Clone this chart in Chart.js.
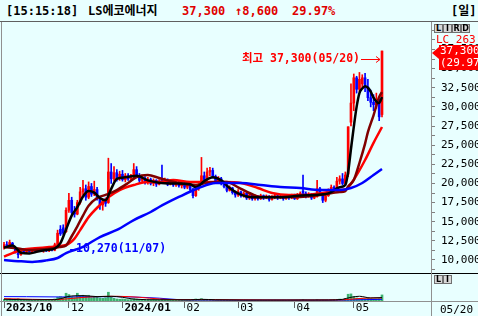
<!DOCTYPE html>
<html>
<head>
<meta charset="utf-8">
<title>LS에코에너지</title>
<script src="https://cdn.jsdelivr.net/npm/chart.js@4.4.1/dist/chart.umd.min.js"></script>
<style>
  html, body { margin: 0; padding: 0; }
  body {
    width: 478px; height: 316px; position: relative; overflow: hidden;
    background: #E8FFFF;
    font-family: "DejaVu Sans Mono", "Noto Sans CJK KR", monospace;
  }
  .abs { position: absolute; white-space: nowrap; }
  #title span { position: absolute; top: 3px; font-size: 12px; font-weight: bold; line-height: 16px; white-space: nowrap; }
  .up { color: #E00000; }
  canvas { position: absolute; left: 0; }
  .btn {
    position: absolute; width: 7px; height: 7px; border: 1px solid #707070; background: #D8D8D8;
    font: bold 8px "DejaVu Sans", sans-serif; line-height: 7px; text-align: center; color: #000;
  }
</style>
</head>
<body>
<div id="title">
  <span style="left:6px">[15:15:18]</span>
  <span style="left:88px">LS에코에너지</span>
  <span class="up" style="left:182px">37,300</span>
  <span class="up" style="left:235px">↑8,600</span>
  <span class="up" style="left:292px">29.97%</span>
  <span style="left:451px">[일]</span>
</div>

<canvas id="priceChart" width="478" height="251" style="top:22px"></canvas>
<canvas id="volChart" width="478" height="42" style="top:274px"></canvas>

<div class="abs" style="left:0;top:21px;width:478px;height:1px;background:#606060"></div>
<div class="abs" style="left:0;top:273px;width:478px;height:1px;background:#000"></div>
<div class="abs" style="left:0;top:301px;width:478px;height:1px;background:#909090"></div>
<div class="abs" style="left:431px;top:22px;width:1px;height:294px;background:#909090"></div>
<div class="abs" style="left:1px;top:22px;width:1px;height:294px;background:#909090"></div>

<div class="btn" style="left:434px;top:24px">L</div>
<div class="btn" style="left:443px;top:24px">I</div>
<div class="btn" style="left:452px;top:24px">R</div>
<div class="btn" style="left:461px;top:24px">D</div>
<div class="btn" style="left:434px;top:275px">L</div>
<div class="btn" style="left:443px;top:275px">I</div>

<div class="abs" style="left:436px;top:34px;color:#f00;font-size:11px;line-height:12px">LC 263</div>
<div class="abs" style="left:432px;top:47px;width:0;height:0;border-top:6px solid transparent;border-bottom:6px solid transparent;border-right:7px solid #f00"></div>
<div class="abs" style="left:439px;top:45px;width:39px;height:25px;background:#f00;color:#fff;font-size:11px;line-height:12px;overflow:hidden;padding-left:1px">37,300<br>(29.97%)</div>
<div class="abs" style="left:440px;top:303px;font-size:11px;line-height:13px;color:#000">05/20</div>

<script>
  // daily candles, 2023-10-31 .. 2024-05-20 (index 0..134)
  var openP = [
    11600, 12000, 11800, 12200, 11500, 11000, 10700, 11200, 11100, 11300,
    11100, 11400, 11200, 11400, 11200, 11300, 11200, 11600, 11300, 11900,
    14000, 14200, 13700, 16500, 17800, 16200, 16000, 17500, 18900, 19300,
    18200, 19600, 18600, 19200, 18000, 17200, 17700, 17500, 21500, 20600,
    21400, 20700, 21200, 20500, 21000, 20600, 20900, 21800, 21000, 20400,
    20700, 20100, 20500, 20000, 20400, 19900, 20600, 20200, 20500, 19900,
    20300, 19800, 20100, 19700, 19900, 19500, 19800, 19200, 18400, 19300,
    19900, 21000, 20500, 21500, 21700, 20900, 20300, 20600, 20000, 19600,
    19100, 19400, 18800, 18500, 18900, 18400, 18700, 18100, 18500, 18000,
    18300, 18000, 18400, 18100, 18300, 17900, 18200, 18400, 18100, 18300,
    18000, 18300, 18100, 18400, 18000, 18500, 19000, 18700, 18300, 18600,
    18100, 18300, 19300, 18600, 17800, 18400, 19100, 19500, 19200, 20300,
    20600, 20000, 21200, 28000, 30500, 33800, 32300, 33000, 33800, 32600,
    31200, 30600, 30300, 30500, 29000
  ];
  var highP = [
    12300, 12400, 12600, 12300, 11700, 11200, 11400, 11500, 11400, 11400,
    11500, 11600, 11500, 11500, 11400, 11500, 11800, 11700, 12200, 13900,
    14500, 14600, 16800, 18700, 18200, 17000, 17800, 19500, 20400, 19800,
    20200, 20000, 20300, 19500, 18300, 18000, 18100, 23300, 22600, 22200,
    21800, 21600, 21700, 21300, 21300, 21200, 22600, 22200, 21300, 20900,
    20900, 20800, 20700, 20600, 20500, 20500, 22400, 20700, 20600, 20500,
    20500, 20400, 20300, 20200, 20100, 20000, 19900, 19400, 19500, 20000,
    23400, 21500, 22000, 22100, 22000, 21100, 20900, 20800, 20200, 19900,
    19700, 19500, 19000, 19200, 19000, 18900, 18800, 18700, 18600, 18500,
    18400, 18600, 18500, 18500, 18400, 18400, 18600, 18500, 18500, 18400,
    18500, 18400, 18600, 18600, 18700, 18900, 21100, 18900, 18800, 18700,
    18600, 20400, 19500, 18800, 18600, 19300, 19800, 19700, 20800, 21000,
    21300, 21500, 27400, 33000, 34300, 34000, 34500, 34200, 34400, 33600,
    32200, 31600, 31800, 31000, 37300
  ];
  var lowP = [
    11400, 11700, 11700, 11500, 10900, 10270, 10600, 11000, 10900, 11000,
    11000, 11100, 11100, 11100, 11000, 11100, 11100, 11200, 11200, 11800,
    13200, 13300, 13600, 16200, 15800, 15600, 15900, 17300, 18500, 17800,
    18000, 18300, 18400, 17800, 16600, 16500, 17000, 17400, 20000, 20300,
    20300, 20400, 20300, 20200, 20400, 20300, 20700, 20800, 20200, 20100,
    19900, 19900, 19800, 19700, 19600, 19800, 20000, 20000, 19700, 19800,
    19600, 19600, 19500, 19400, 19300, 19300, 19000, 18100, 18300, 19100,
    19800, 20200, 20400, 21000, 20700, 20000, 20100, 19800, 19400, 18900,
    19000, 18600, 18200, 18300, 18200, 18200, 17900, 17900, 17800, 17800,
    17800, 17900, 17900, 18000, 17700, 17800, 18000, 17900, 18000, 17800,
    17900, 17900, 18000, 17900, 17900, 18300, 18500, 18100, 18200, 17900,
    18000, 18200, 18400, 17500, 17600, 18300, 18900, 18900, 19100, 19900,
    19800, 19800, 20900, 27500, 29500, 31800, 32000, 32500, 32000, 30800,
    30000, 29500, 29800, 28200, 28700
  ];
  var closeP = [
    12000, 11800, 12300, 11600, 11000, 10700, 11200, 11100, 11300, 11100,
    11400, 11200, 11400, 11200, 11300, 11200, 11600, 11300, 12000, 13500,
    13400, 13500, 16500, 17800, 16200, 16000, 17500, 18900, 19300, 18200,
    19600, 18600, 19200, 18000, 17200, 17700, 17400, 21500, 20600, 21400,
    20700, 21200, 20500, 21000, 20600, 20900, 21800, 21000, 20400, 20700,
    20100, 20500, 20000, 20400, 19900, 20300, 20200, 20500, 19900, 20300,
    19800, 20100, 19700, 19900, 19500, 19800, 19200, 18400, 19300, 19800,
    21000, 20500, 21500, 21700, 20900, 20300, 20600, 20000, 19600, 19100,
    19400, 18800, 18500, 18900, 18400, 18700, 18100, 18500, 18000, 18300,
    18000, 18400, 18100, 18300, 17900, 18200, 18400, 18100, 18300, 18000,
    18300, 18100, 18400, 18000, 18500, 18700, 18700, 18300, 18600, 18100,
    18400, 19300, 18600, 17800, 18400, 19100, 19500, 19200, 20300, 20600,
    20000, 21100, 27400, 30500, 33800, 32300, 33600, 33800, 32600, 31200,
    30600, 30300, 31000, 28700, 37300
  ];
  var volume = [
    250, 200, 300, 220, 280, 350, 250, 200, 160, 170,
    180, 150, 140, 160, 150, 130, 180, 170, 300, 550,
    650, 450, 1150, 950, 600, 500, 1150, 700, 850, 800,
    850, 500, 600, 550, 450, 400, 480, 1300, 600, 400,
    300, 260, 300, 250, 200, 220, 350, 280, 200, 190,
    180, 170, 160, 200, 170, 150, 350, 200, 180, 160,
    170, 150, 160, 150, 140, 150, 160, 170, 300, 250,
    350, 220, 250, 200, 180, 170, 160, 150, 150, 140,
    140, 150, 140, 130, 130, 140, 130, 120, 130, 120,
    120, 130, 120, 120, 130, 120, 130, 120, 120, 130,
    120, 130, 120, 130, 140, 150, 250, 150, 140, 130,
    140, 220, 150, 160, 150, 160, 170, 220, 250, 280,
    220, 350, 1000, 1050, 650, 450, 400, 420, 350, 380,
    320, 300, 300, 350, 900
  ];

  // moving averages as [dayIndex, price]
  var ma5 = [[0,11600],[3,11900],[6,10950],[9,10850],[12,11100],[15,11300],[18,11500],[20,12200],[22,14000],[24,15800],
    [26,16900],[28,18300],[30,19000],[32,18800],[34,18100],[36,17800],[38,19300],[40,20600],[43,20800],[47,21000],
    [51,20400],[55,20100],[60,20000],[66,19900],[68,19500],[71,20300],[74,20800],[77,20400],[80,19400],[83,18700],
    [88,18200],[93,18200],[99,18200],[104,18400],[110,18500],[115,18700],[119,19500],[121,19800],[122,21500],[123,24500],
    [124,27400],[125,30000],[126,31800],[127,32400],[128,32700],[129,32500],[130,32000],[131,31200],[132,30700],[133,30500],[134,31300]];
  var ma10 = [[0,11700],[5,11500],[9,11300],[14,11400],[18,11570],[20,11700],[22,11900],[24,13100],[26,14400],[28,15800],
    [30,17100],[33,18100],[36,18500],[40,19140],[44,20060],[47,20840],[51,21100],[55,20710],[62,20060],[68,19800],
    [72,20100],[76,20190],[79,20190],[83,19500],[87,18750],[91,18230],[98,18230],[105,18230],[112,18490],[119,18880],
    [121,19000],[122,19600],[124,20450],[126,22670],[128,25200],[129,26700],[131,28900],[133,31300],[134,31940]];
  var ma20 = [[0,10450],[3,10900],[6,11300],[10,11500],[16,11700],[22,11960],[25,12800],[27,13900],[30,15600],[34,17180],
    [37,18200],[41,19140],[46,19800],[51,20190],[55,20190],[60,20450],[66,20190],[72,20190],[78,20190],[84,20060],
    [90,19400],[95,18750],[101,18490],[107,18490],[113,18750],[119,19140],[121,19200],[124,20500],[128,23060],[131,25300],[134,27370]];
  var ma60 = [[0,10000],[5,9850],[10,9750],[15,9950],[19,10260],[22,10900],[28,11700],[34,13000],[40,13920],[46,15220],
    [52,16270],[55,16920],[62,18230],[69,19400],[75,20060],[84,20060],[91,19800],[98,19530],[105,19400],[112,19140],
    [119,19140],[123,19400],[127,20060],[131,21100],[134,21880]];

  var volMa5 = [[0,260],[10,180],[18,200],[20,350],[24,750],[28,800],[33,650],[38,700],[42,550],[46,280],[55,180],
    [66,180],[70,250],[75,180],[85,140],[100,140],[115,150],[120,250],[123,550],[126,700],[130,450],[134,500]];
  var volMa20 = [[0,350],[10,250],[18,200],[22,300],[30,600],[40,700],[48,550],[55,300],[62,190],[70,200],[80,180],
    [95,150],[110,150],[120,180],[124,300],[128,420],[134,460]];
  var volMa60 = [[0,650],[8,640],[20,600],[30,620],[40,650],[45,600],[55,420],[62,200],[70,150],[90,140],[110,130],
    [120,140],[126,180],[134,250]];

  var monthIdx = [0, 23, 42, 64, 83, 103, 124];
  var monthLabels = ['2023/10', '12', '2024/01', '02', '03', '04', '05'];
  var priceTicks = [10000, 12500, 15000, 17500, 20000, 22500, 25000, 27500, 30000, 32500, 35000, 37500];
  var hiDate = '05/20';
  var loDate = '11/07';

  var xMin = -0.3545, xMax = 151.37;
  var UP = '#FF0000', DOWN = '#0000FF';
  var MONO = '"DejaVu Sans Mono", "Noto Sans CJK KR", monospace';

  function fmt(v) {
    return String(v).replace(/\B(?=(\d{3})+(?!\d))/g, ',');
  }

  function toPts(arr) {
    return arr.map(function (p) { return { x: p[0], y: p[1] }; });
  }

  var candleColors = closeP.map(function (c, i) { return c >= openP[i] ? UP : DOWN; });
  var bodies = closeP.map(function (c, i) { return { x: i, y: [openP[i], c] }; });
  var wicks = closeP.map(function (c, i) { return { x: i, y: [lowP[i], highP[i]] }; });

  var minorTicks = [];
  for (var t = 8750; t <= 40000; t += 1250) minorTicks.push(t);

  var hiIdx = highP.indexOf(Math.max.apply(null, highP));
  var loIdx = lowP.indexOf(Math.min.apply(null, lowP));

  var hiLoPlugin = {
    id: 'hiLo',
    afterDatasetsDraw: function (chart) {
      var xs = chart.scales.x, ys = chart.scales.y, ctx = chart.ctx;
      var hx = xs.getPixelForValue(hiIdx), hy = ys.getPixelForValue(highP[hiIdx]);
      var lx = xs.getPixelForValue(loIdx), ly = ys.getPixelForValue(lowP[loIdx]);
      ctx.save();
      ctx.font = 'bold 11.5px ' + MONO;
      ctx.textBaseline = 'middle';
      // high
      ctx.fillStyle = UP; ctx.strokeStyle = UP; ctx.lineWidth = 1;
      ctx.textAlign = 'right';
      ctx.fillText('최고 ' + fmt(highP[hiIdx]) + '(' + hiDate + ')', hx - 22, hy + 8);
      var ay = Math.round(hy + 8) + 0.5;
      ctx.beginPath();
      ctx.moveTo(hx - 21, ay); ctx.lineTo(hx - 2, ay);
      ctx.moveTo(hx - 6, ay - 3); ctx.lineTo(hx - 2, ay); ctx.lineTo(hx - 6, ay + 3);
      ctx.stroke();
      // low
      ctx.fillStyle = DOWN; ctx.strokeStyle = DOWN;
      ctx.textAlign = 'left';
      ctx.fillText(fmt(lowP[loIdx]) + '(' + loDate + ')', lx + 58, ly - 9);
      ctx.beginPath();
      var by = Math.round(ly - 9) + 0.5;
      ctx.moveTo(lx + 52, by); ctx.lineTo(lx + 57, by);
      ctx.stroke();
      ctx.restore();
    }
  };

  function lineSet(data, color, order, width) {
    return {
      type: 'line', data: toPts(data), borderColor: color, borderWidth: width || 2.5,
      pointRadius: 0, cubicInterpolationMode: 'monotone', order: order
    };
  }

  new Chart(document.getElementById('priceChart'), {
    type: 'bar',
    data: {
      datasets: [
        lineSet(ma60, '#0000FF', 1),
        lineSet(ma5, '#000000', 2),
        lineSet(ma10, '#800000', 3),
        lineSet(ma20, '#FF0000', 4),
        { data: bodies, backgroundColor: candleColors, barThickness: 2, grouped: false, minBarLength: 1, order: 8 },
        { data: wicks, backgroundColor: candleColors, barThickness: 1, grouped: false, order: 9 }
      ]
    },
    options: {
      responsive: false, animation: false, events: [],
      layout: { padding: { left: 3, right: 0, top: 0, bottom: 0 } },
      plugins: { legend: { display: false }, tooltip: { enabled: false } },
      scales: {
        x: { type: 'linear', offset: false, min: xMin, max: xMax, display: false },
        y: {
          position: 'right', min: 8300, max: 41090,
          afterBuildTicks: function (s) { s.ticks = minorTicks.map(function (v) { return { value: v }; }); },
          afterFit: function (s) { s.width = 47; s.paddingTop = 0; s.paddingBottom = 0; },
          grid: { drawOnChartArea: false, drawTicks: true, tickLength: 4, color: '#808080' },
          border: { display: false },
          ticks: {
            autoSkip: false, padding: 6, color: '#000',
            font: { family: MONO, size: 11 },
            callback: function (v) { return priceTicks.indexOf(v) >= 0 ? fmt(v) : ''; }
          }
        }
      }
    },
    plugins: [hiLoPlugin]
  });

  new Chart(document.getElementById('volChart'), {
    type: 'bar',
    data: {
      datasets: [
        lineSet(volMa5, '#000000', 1, 1),
        lineSet(volMa20, '#FF0000', 2, 1),
        lineSet(volMa60, '#0000FF', 3, 1),
        {
          data: volume.map(function (v, i) { return { x: i, y: v }; }),
          backgroundColor: '#3CB371', barThickness: 2, grouped: false, order: 5
        }
      ]
    },
    options: {
      responsive: false, animation: false, events: [],
      layout: { padding: { left: 3, right: 0, top: 0, bottom: 0 } },
      plugins: { legend: { display: false }, tooltip: { enabled: false } },
      scales: {
        x: {
          type: 'linear', offset: false, min: xMin, max: xMax, position: 'bottom',
          afterBuildTicks: function (s) { s.ticks = monthIdx.map(function (v) { return { value: v }; }); },
          afterFit: function (s) { s.height = 15; s.paddingLeft = 0; s.paddingRight = 0; },
          grid: { offset: false, drawOnChartArea: false, drawTicks: true, tickLength: 7, color: '#606060' },
          border: { display: false },
          ticks: {
            autoSkip: false, maxRotation: 0, minRotation: 0, align: 'start', labelOffset: 2, padding: -6,
            color: '#000',
            font: function (c) {
              var lab = monthLabels[c.index] || '';
              return { family: MONO, size: 11, weight: lab.indexOf('/') > 0 ? 'bold' : 'normal' };
            },
            callback: function (v, i) { return monthLabels[i]; }
          }
        },
        y: {
          position: 'right', min: 0, max: 4000,
          grid: { display: false }, border: { display: false }, ticks: { display: false },
          afterFit: function (s) { s.width = 47; s.paddingTop = 0; s.paddingBottom = 0; }
        }
      }
    }
  });
</script>
</body>
</html>
